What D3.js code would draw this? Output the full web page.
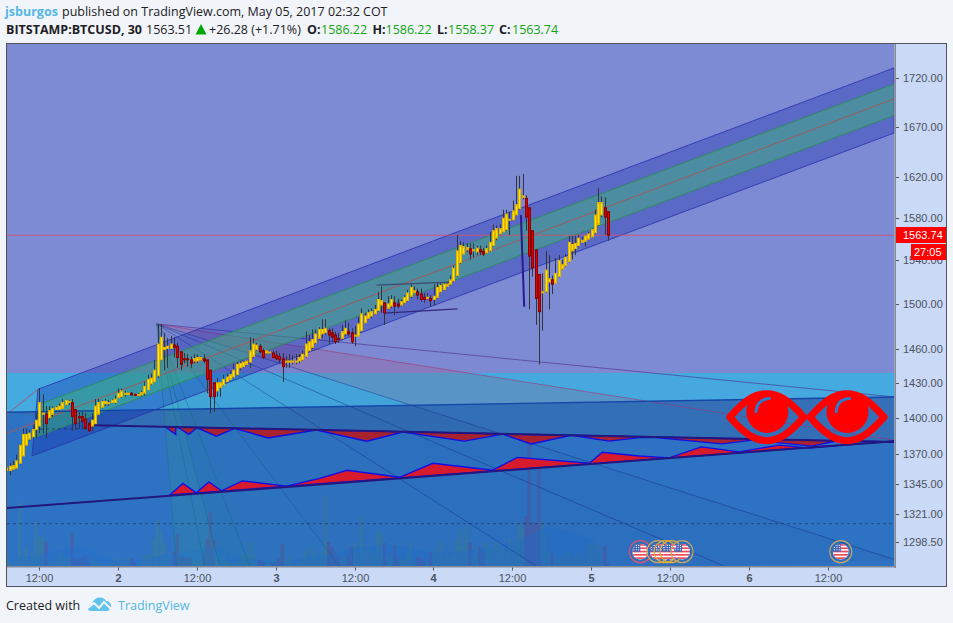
<!DOCTYPE html>
<html><head><meta charset="utf-8">
<script src="https://cdn.jsdelivr.net/npm/d3@7/dist/d3.min.js"></script>
<style>html,body{margin:0;padding:0;background:#f1f5f9;overflow:hidden}svg{display:block}</style>
</head><body><svg id="c" width="953" height="623"></svg>
<script>
// ---- candle data (30 min bars, first bar 2017-05-01 07:00) ----
const opens=[1356,1356,1357,1358,1362,1368,1377,1382,1384,1390,
1393,1403,1403,1400,1403,1407,1407,1408,1411,1413,
1413,1407,1401,1401,1399,1395,1393,1395,1403,1409,
1412,1412,1413,1413,1417,1418,1420,1420,1421,1420,
1419,1419.5,1421,1424,1429,1431,1436,1450,1459,1460,
1460,1463,1462,1457,1451,1451,1450,1449,1449,1450,
1451,1450,1441,1430,1423,1426,1428,1431,1433,1435,
1437,1443,1444,1446,1448,1453,1459,1462,1458,1456,
1456,1456,1454,1453,1451,1448,1448,1448,1448,1449,
1450,1453,1458,1461,1465,1469,
1473,1474,1476,1474,1472,1469,1469,1473,1475,1474,
1471,1471,1476,1483,1487,1489,1491,1494,1499,1501,
1496,1498,1501,1500,1499,1501,1503,1507,1510.5,1511,
1509,1506,1505,1505,1504,1506,1511,1513,1516,1518,
1521,1526,1538,1546,1550,1551,1549,1548,1550,1548.5,
1547,1549,1554,1561,1565,1567,1569,1578,1578.5,1583,
1589,1600,1599,1590,1568,1550,1527,1510.5,1511,1520,
1522,1519,1525,1532,1535,1539,1549,1551,1554,1557,
1558,1560,1562,1566,1574,1583,1590,1586.22];
const closes=[1358,1359.5,1360,1364,1377,1386,1386,1387,1390,1398,
1413,1404,1395,1406,1408,1409,1410,1413,1415,1414,
1401,1395,1400,1397,1391,1389,1398,1410,1413,1414,
1414,1413,1415,1416,1421,1423,1421,1421,1419.5,1419,
1420,1421.5,1427,1433,1434,1441,1464,1470,1461,1462,
1464,1461,1452,1446,1450,1450,1447,1451,1452,1452,
1449,1433,1418,1418,1430,1430,1433,1435,1437,1441,
1446,1447,1448,1449,1458,1464,1463,1457,1452,1458,
1457,1452,1451,1450,1444,1449,1449,1449,1449,1452,
1455,1464,1466,1468,1473,1477,
1477,1478,1472,1470,1466,1468,1475,1478,1473,1466,
1472,1482,1491,1489,1492,1493,1495,1504,1503,1492,
1500,1504,1498,1498,1502,1506,1510,1515,1512,1508,
1504,1504,1506,1503,1507,1515,1517,1518,1518,1522,
1533,1549,1554,1553,1552,1546,1550,1551.5,1548,1546,
1551,1557,1568,1570,1570,1580,1584,1579,1587,1593,
1608,1601.5,1581,1544,1533,1505,1493,1511,1531,1523,
1518,1528,1540,1536,1543,1557,1555,1556,1561,1559,
1563,1565,1569,1583,1595,1595,1581,1563.74];
const highs=[1359,1362,1364,1369,1378,1391,1391,1390,1394,1404,
1425,1420,1410,1410,1410,1410,1412,1416,1416,1415,
1416,1407,1405,1405,1404,1397,1404,1416,1416,1415,
1416,1415,1416,1419,1425,1425,1423,1421.5,1422,1420.5,
1421,1423,1431,1437,1438,1450,1481,1482,1474,1469,
1471,1470,1465,1457,1456,1455,1453,1455,1455,1453,
1455,1450,1441,1430,1434,1430,1437,1438,1440,1447,
1448,1449,1449,1450,1470,1469,1465,1464,1460,1458.5,
1458,1458,1458,1456,1456,1453,1455,1454,1455,1455,
1458,1475,1472,1477,1477,1479,
1486,1486,1478,1478,1475,1474,1481,1485,1483,1478,
1480,1488,1496,1492,1495,1496,1499,1511,1516,1501,
1507,1508,1507,1505,1504,1508,1513,1518,1516,1514,
1514,1510,1510,1508,1518,1519,1519,1519,1519,1526,
1535,1564,1558,1557,1556,1556,1556,1554,1554,1552,
1554,1567,1574,1573,1574,1588,1588,1586,1597,1621,
1621,1623,1602,1590,1568,1550,1527,1528,1549,1545,
1526,1542,1545,1541,1546,1563,1563,1563,1564,1562,
1563.5,1567,1570,1588,1609,1601,1600,1586.22];
const lows=[1356,1352,1356,1358,1361,1368,1377,1381,1383,1383,
1387,1387,1383,1398,1401,1406,1406,1408,1410,1411,
1389,1390,1391,1391,1390,1388,1389,1393,1403,1408,
1410,1410,1413,1412,1417,1417,1418,1419.5,1419,1418.5,
1418,1418,1419,1424,1428,1431,1434,1449,1441,1443,
1459,1452,1443,1441,1447,1444,1443,1447,1447,1450,
1447,1421,1404,1405,1418,1418,1427,1430,1433,1434,
1436,1441,1443,1445,1443,1452,1458,1456,1451,1455,
1455,1452,1450,1447,1431,1443,1443,1446,1446,1447,
1449,1452,1457,1460,1464,1468,
1469,1472,1464,1466,1464,1465,1468,1471,1471,1464,
1462,1471,1476,1483,1486,1487,1490,1493,1492,1481,
1495,1496,1490,1496,1498,1500,1502,1505,1510,1504,
1502,1501,1504,1498,1499,1505,1510,1512,1515,1517,
1520,1525,1537,1546,1548,1541,1543,1545,1545,1544,
1546,1548,1553,1559,1564,1567,1568,1564,1578,1582,
1588,1598,1568,1495,1525,1481,1446,1476,1510,1495,
1509,1519,1524,1531,1534,1538,1541,1545,1553,1556,
1553,1559,1561,1565,1573,1581,1564,1558.37];
const volumes=[13,4,4,9,63,9,19,7,11,44,
29,29,24,5,4,7,13,13,9,8,
33,7,8,9,11,3,7,7,3,2,
1,1,3,7,6,4,4,7,8,4,
2,6,11,11,11,27,46,35,23,8,
14,14,32,9,10,8,9,6,6,8,
14,27,54,26,8,6,12,6,3,3,
3,7,12,9,24,11,4,6,4,3,
2,3,3,7,22,6,9,3,4,4,
7,17,6,18,11,6,
13,71,24,19,13,9,9,9,13,19,
24,14,50,16,19,16,9,34,33,23,
11,11,21,9,9,6,13,23,4,9,
9,6,4,14,15,13,25,9,11,9,
13,27,36,19,40,23,11,18,19,14,
24,18,19,23,19,19,13,28,23,26,
45,39,50,123,44,43,98,44,33,14,
13,11,9,11,13,14,9,11,9,13,
6,23,23,22,21,13,20,2];
const volMaBars=[1,3,8,13,18,23,28,33,39,44,49,54,61,64,69,74,82,89,94,96,106,115,124,131,141,151,158,164,171,176,179,182,183];
const volMaVals=[3,9,10,14,17,18,11,6,6,9,12,14,18,19,11,8,4,7,11,11,18,21,18,13,16,21,29,38,34,29,23,6,0];

// ---- axis labels ----
const priceTicks=[1720,1670,1620,1580,1540,1500,1460,1430,1400,1370,1345,1321,1298.5];
const timeTickBars=[10,34,58,82,106,130,154,178,202,226,250];
const timeTickLabels=["12:00","2","12:00","3","12:00","4","12:00","5","12:00","6","12:00"];

// ---- drawings: [bar, price] ----
const channelOuter=[[9.6,1424.4],[270,1730.5],[270,1663.6],[7.8,1368]];
const channelInner=[[11.1,1412.5],[270,1713.8],[270,1681.4],[8.1,1383]];
const channelMid=[[0.18,1387],[270,1698.4]];
const channelExt=[[0.18,1403],[9.6,1424.4]];
const cyanTopPrice=1438.5;
const blueTop=[[0.18,1404.7],[270,1417.7]];
const wedgeLow=[[26.3,1393.7],[270,1379.6]];
const wedgeDash=[[10.2,1390.4],[26.3,1390.8]];
const baseLow=[[0.18,1325.5],[270,1380.3]];
const lowerPeaks=[[49.7,1336],[53.7,1345.4],[57.8,1337.8],[61.6,1346.7],[65.4,1339.4],[71.8,1347.5],[85.2,1343.2],[95.3,1349.5],[103.6,1356.2],[119.6,1350.4],[129.7,1361.9],[147.9,1356.2],[155.5,1366.8],[177.3,1361.9],[181.3,1371],[192.5,1367.9],[201.6,1366.4],[211.4,1375.5],[222.9,1371.4],[235,1377],[244.2,1374.5],[270,1380.3]];
const upperTroughs=[[48.2,1392.4],[51.5,1386],[51.5,1391.8],[52.2,1391.8],[55.5,1386],[58,1391.5],[63.9,1384.5],[69.4,1391],[79.6,1383],[94.3,1389.6],[109.6,1380.3],[120.6,1388],[139.3,1380.3],[151,1386.2],[159.6,1378],[171.9,1385.3],[183.4,1380.3],[192.5,1383.3],[197.6,1383.3],[217.7,1378],[226.8,1381.2],[245,1376.2],[253.2,1380.8],[270,1379.6]];
const fanApex=[45.75,1481.8];
const fanEnds=[[270,1417.8],[270,1381.2],[270,1285],[218.3,1279.7],[161.2,1279.7],[101.3,1279.7],[74,1279.7],[64.9,1279.7],[60.3,1279.7],[51.8,1279.7]];
const fanLineColors=["rgba(80,40,140,.6)","rgba(165,50,110,.55)","rgba(25,45,130,.45)","rgba(25,45,130,.45)","rgba(25,45,130,.4)","rgba(25,80,130,.35)","rgba(20,110,120,.4)","rgba(20,110,120,.4)","rgba(20,110,120,.4)","rgba(20,110,120,.4)"];
const fanFillColors=["rgba(120,120,200,.04)","rgba(175,60,105,.2)","rgba(20,40,100,.05)","rgba(20,40,100,.05)","rgba(20,60,100,.05)","rgba(20,100,110,.06)","rgba(20,130,110,.1)","rgba(40,170,110,.13)","rgba(40,170,110,.13)"];
const patternTop=[[112.6,1517.2],[134.8,1520]];
const patternBottom=[[115,1491.7],[137.2,1495.4]];
const patternSpike=[[156.5,1583],[157.5,1497.4]];
const dottedPrice=1313;
const lastPrice=1563.74;
const eyeBars=[231.3,255.7];
const eyePrice=1400.5;
const eventBars=[192.8,198.2,200.4,202.2,205.5,253.8];
const eventColors=["#d9536f","#c9a55c","#e0ac3a","#e0ac3a","#c9a55c","#c9a55c"];
const eventPrice=1290.9;

const svg=d3.select("#c");
const L=7,R=894.5,T=44,B=566;
const x=d3.scaleLinear().domain([0,270]).range([6.4,6.4+270*3.2875]);
const y=d3.scaleLog().domain([1720,1298.5]).range([78,542]);
const FONT="'Liberation Sans',Arial,sans-serif", HFONT="'Open Sans',sans-serif";
const line=d3.line().x(d=>x(d[0])).y(d=>y(d[1]));
const poly=pts=>line(pts)+"Z";

const defs=svg.append("defs");
defs.append("clipPath").attr("id","plot").append("rect").attr("x",L).attr("y",T).attr("width",R-L).attr("height",B-T);
defs.append("clipPath").attr("id","flag").append("circle").attr("r",8);

// axis panel + frame
svg.append("rect").attr("x",6.5).attr("y",43.5).attr("width",940).attr("height",543).attr("fill","#c9d9f6").attr("stroke","#50535a");
const g=svg.append("g").attr("clip-path","url(#plot)");
g.append("rect").attr("x",L).attr("y",T).attr("width",R-L).attr("height",B-T).attr("fill","#7d8bd4");
g.append("rect").attr("x",L).attr("y",y(cyanTopPrice)).attr("width",R-L).attr("height",B-y(cyanTopPrice)).attr("fill","#44aadf");
// the mauve wedge of the fan shows only above the blue block
g.append("path").attr("d",poly([fanApex,fanEnds[1],fanEnds[2]])).attr("fill",fanFillColors[1]);
const floorP=1270;
g.append("path").attr("d",poly([blueTop[0],blueTop[1],[blueTop[1][0],floorP],[blueTop[0][0],floorP]])).attr("fill","#2e73c3");
g.append("path").attr("d",poly([blueTop[0],blueTop[1],wedgeLow[1],wedgeLow[0]])).attr("fill","rgba(75,85,105,.13)");

// volume
const vol=d3.scaleLinear().domain([0,123]).range([566,443]);
g.append("g").selectAll("rect").data(volumes).join("rect")
 .attr("x",(d,i)=>x(i)-1.6).attr("width",3.2).attr("y",d=>vol(d)).attr("height",d=>566-vol(d))
 .attr("fill",(d,i)=>closes[i]>=opens[i]?"rgba(70,130,120,.33)":"rgba(115,60,125,.33)");
g.append("path").datum(volMaBars.map((b,i)=>[b,volMaVals[i]]))
 .attr("d",d3.area().x(d=>x(d[0])).y0(566).y1(d=>vol(d[1])).curve(d3.curveMonotoneX))
 .attr("fill","rgba(35,110,205,.45)");
// dotted level
g.append("line").attr("x1",L).attr("x2",R).attr("y1",y(dottedPrice)).attr("y2",y(dottedPrice)).attr("stroke","rgba(30,45,90,.6)").attr("stroke-dasharray","3,3");

// fan
fanEnds.slice(0,-1).forEach((e,i)=>{ if(i!==1) g.append("path").attr("d",poly([fanApex,e,fanEnds[i+1]])).attr("fill",fanFillColors[i]);});
fanEnds.forEach((e,i)=>{g.append("path").attr("d",line([fanApex,e])).attr("fill","none").attr("stroke",fanLineColors[i]);});

// channel
g.append("path").attr("d",poly(channelOuter)).attr("fill","rgba(12,26,165,.3)").attr("stroke","#2b35b0").attr("stroke-opacity",.85);
g.append("path").attr("d",poly(channelInner)).attr("fill","rgba(60,190,110,.42)");
g.append("path").attr("d",line([channelInner[0],channelInner[1]])).attr("stroke","#2f8a63").attr("fill","none");
g.append("path").attr("d",line([channelInner[3],channelInner[2]])).attr("stroke","#2f8a63").attr("fill","none");
g.append("path").attr("d",line(channelMid)).attr("stroke","#a05a5f").attr("fill","none");
g.append("path").attr("d",line(channelExt)).attr("stroke","#a05a7f").attr("fill","none");

// wedge lines
g.append("path").attr("d",line(blueTop)).attr("stroke","#1446a8").attr("stroke-width",1.4).attr("fill","none");
g.append("path").attr("d",line(wedgeDash)).attr("stroke","rgba(30,40,80,.7)").attr("stroke-dasharray","3,3").attr("fill","none");

// red patterns
g.append("path").attr("d",poly(upperTroughs)).attr("fill","#a8222f").attr("stroke","#1010e6").attr("stroke-width",1.4);
g.append("path").attr("d",poly(lowerPeaks)).attr("fill","#d81b2c").attr("stroke","#1010e6").attr("stroke-width",1.4);
g.append("path").attr("d",line(wedgeLow)).attr("stroke","#23177e").attr("stroke-width",2).attr("fill","none");
g.append("path").attr("d",line(baseLow)).attr("stroke","#23177e").attr("stroke-width",2).attr("fill","none");

// patterns on candles
g.append("path").attr("d",line(patternTop)).attr("stroke","#3b4a6e").attr("stroke-width",1.2).attr("fill","none");
g.append("path").attr("d",line(patternBottom)).attr("stroke","#33287e").attr("stroke-width",1.2).attr("fill","none");

// last price line
g.append("line").attr("x1",L).attr("x2",R).attr("y1",y(lastPrice)).attr("y2",y(lastPrice)).attr("stroke","#d4506a").attr("stroke-opacity",.85);

// candles
const bars=g.append("g");
opens.forEach((o,i)=>{
  const up=closes[i]>=o, cx=Math.round(x(i))+.5;
  bars.append("line").attr("x1",cx).attr("x2",cx).attr("y1",y(highs[i])).attr("y2",y(lows[i])).attr("stroke","#33343c");
  const t=y(Math.max(o,closes[i])), b=y(Math.min(o,closes[i]));
  bars.append("rect").attr("x",cx-1).attr("width",2).attr("y",t).attr("height",Math.max(b-t,1))
   .attr("fill",up?"#ffe800":"#e00000").attr("stroke",up?"#e2b400":"#8c0000").attr("stroke-width",1);
});
g.append("path").attr("d",line(patternSpike)).attr("stroke","#2a1c8c").attr("stroke-width",2).attr("fill","none");

// events
eventBars.forEach((b,i)=>{
  const f=g.append("g").attr("transform",`translate(${x(b)},${y(eventPrice)})`);
  const c=f.append("g").attr("clip-path","url(#flag)");
  c.append("rect").attr("x",-8).attr("y",-8).attr("width",16).attr("height",16).attr("fill","#fff");
  d3.range(5).forEach(k=>c.append("rect").attr("x",-8).attr("y",-7.6+k*3.3).attr("width",16).attr("height",1.7).attr("fill","#ea4a5e"));
  c.append("rect").attr("x",-8).attr("y",-8).attr("width",8).attr("height",8).attr("fill","#3f63b8");
  d3.range(3).forEach(a=>d3.range(3).forEach(k=>c.append("circle").attr("cx",-6.3+a*2.4).attr("cy",-6.3+k*2.2).attr("r",.6).attr("fill","#fff")));
  f.append("circle").attr("r",11).attr("fill","none").attr("stroke",eventColors[i]).attr("stroke-width",1.2);
});

// eyes
eyeBars.forEach(b=>{
  const e=g.append("g").attr("transform",`translate(${x(b)},${y(eyePrice)})`);
  e.append("path").attr("d","M-37,0C-22,-17 -12,-23.5 0,-23.5C12,-23.5 22,-17 37,0C22,17 12,23.5 0,23.5C-12,23.5 -22,17 -37,0Z")
   .attr("fill","none").attr("stroke","#ff0000").attr("stroke-width",7).attr("stroke-linejoin","round");
  e.append("circle").attr("cx",0.5).attr("cy",-5.3).attr("r",21).attr("fill","#ff0000");
  e.append("path").attr("d","M-10.8,-5.5Q-10,-18 2.5,-18.7").attr("fill","none").attr("stroke","#2f7ac8").attr("stroke-width",3).attr("stroke-linecap","round");
});

// separators
svg.append("rect").attr("x",894.5).attr("y",44).attr("width",1.5).attr("height",524).attr("fill","#858a94");
svg.append("rect").attr("x",7).attr("y",566).attr("width",889).attr("height",1.5).attr("fill","#858a94");

// price axis
priceTicks.forEach(p=>{
  svg.append("line").attr("x1",896).attr("x2",899).attr("y1",Math.round(y(p))+.5).attr("y2",Math.round(y(p))+.5).attr("stroke","#555");
  svg.append("text").attr("x",903).attr("y",y(p)+4).attr("font-family",FONT).attr("font-size",11).attr("fill","#4c525e").text(p.toFixed(2));
});
svg.append("rect").attr("x",896).attr("y",227).attr("width",50).attr("height",16).attr("fill","#ff0000");
svg.append("text").attr("x",903).attr("y",239).attr("font-family",FONT).attr("font-size",11).attr("font-weight","500").attr("fill","#fff").text(lastPrice.toFixed(2));
svg.append("rect").attr("x",911).attr("y",244).attr("width",35).attr("height",16).attr("fill","#ff0000");
svg.append("text").attr("x",914).attr("y",256).attr("font-family",FONT).attr("font-size",11).attr("fill","#fff").text("27:05");

// time axis
timeTickBars.forEach((b,i)=>{
  const px=Math.round(x(b)-.3)+.5, lab=timeTickLabels[i], day=lab.length===1;
  svg.append("line").attr("x1",px).attr("x2",px).attr("y1",567.5).attr("y2",570.5).attr("stroke","#555");
  svg.append("text").attr("x",px).attr("y",582).attr("text-anchor","middle").attr("font-family",FONT).attr("font-size",11)
   .attr("font-weight",day?"bold":"normal").attr("fill","#4c525e").text(lab);
});

// header
const txt=(t,xp,yp,opt={})=>svg.append("text").attr("x",xp).attr("y",yp).attr("font-family",HFONT).attr("font-size",opt.size||12.5)
  .attr("font-weight",opt.bold?"bold":"normal").attr("fill",opt.fill||"#1e2025").text(t);
txt("jsburgos",5,16,{bold:true,fill:"#55b6e6"});
txt("published on TradingView.com, May 05, 2017 02:32 COT",62,16);
txt("BITSTAMP:BTCUSD, 30",6,33.5,{bold:true});
txt("1563.51",146,33.5);
svg.append("path").attr("d","M195.5,34.5L201,24L206.5,34.5Z").attr("fill","#00a800");
txt("+26.28 (+1.71%)",209,33.5);
[["O:",307,"1586.22",321],["H:",372.5,"1586.22",385.5],["L:",437,"1558.37",448],["C:",499,"1563.74",512]].forEach(r=>{
  txt(r[0],r[1],33.5,{bold:true});txt(r[2],r[3],33.5,{fill:"#12a312"});
});

// footer
txt("Created with",6,610);
const logo=svg.append("g").attr("transform","translate(88,597)");
logo.append("path").attr("d","M0,12C0,9 2,8 4,7C5,3 8,0.5 12,0.5C15,0.5 17,2 18,4C21,4 23,6 23,9C23,12 21,14 18,14L3,14C1,14 0,13 0,12Z").attr("fill","#5fc3ea");
logo.append("path").attr("d","M0,11L6,6L11,11L16,5L23,12").attr("fill","none").attr("stroke","#f1f5f9").attr("stroke-width",2);
txt("TradingView",118,610,{fill:"#55b6e6"});
</script></body></html>
